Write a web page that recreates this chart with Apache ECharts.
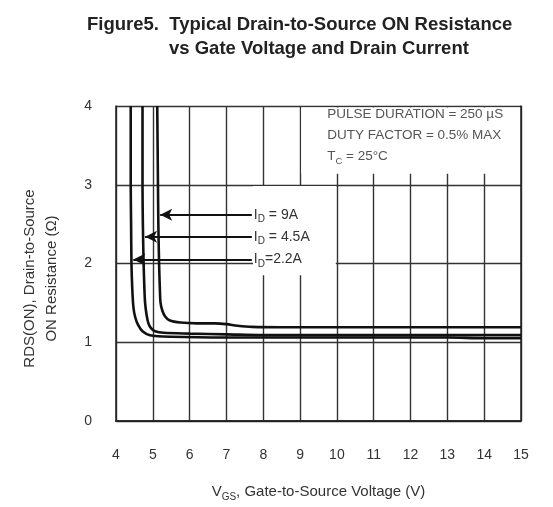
<!DOCTYPE html>
<html>
<head>
<meta charset="utf-8">
<script src="https://cdn.jsdelivr.net/npm/echarts@6/dist/echarts.min.js"></script>
<style>html,body{margin:0;padding:0;background:#fff}#c{width:553px;height:507px}</style>
</head>
<body>
<div id="c"></div>
<script>
// ---- data ----
const xTicks = [4,5,6,7,8,9,10,11,12,13,14,15];
const yTicks = [0,1,2,3,4];
const id9A = [[5.12,4.0],[5.13,3.5],[5.14,3.0],[5.15,2.5],[5.17,2.0],[5.19,1.7],[5.21,1.5],[5.26,1.4],[5.33,1.33],[5.45,1.28],[5.75,1.25],[6.2,1.24],[6.7,1.24],[7.0,1.23],[7.3,1.21],[7.7,1.195],[8.5,1.19],[10,1.19],[12,1.19],[15,1.19]];
const id4_5A = [[4.72,4.0],[4.72,3.0],[4.73,2.5],[4.75,2.0],[4.77,1.7],[4.79,1.5],[4.83,1.35],[4.88,1.24],[4.95,1.18],[5.06,1.14],[5.3,1.12],[6,1.11],[7,1.10],[8,1.09],[10,1.09],[12,1.09],[15,1.09]];
const id2_2A = [[4.40,4.0],[4.40,3.0],[4.41,2.5],[4.42,2.0],[4.44,1.7],[4.47,1.46],[4.52,1.32],[4.6,1.22],[4.72,1.14],[4.92,1.09],[5.5,1.07],[7,1.06],[10,1.06],[13,1.06],[14,1.05],[15,1.05]];
const arrowY = [2.62, 2.34, 2.05];
const arrowTipX = [5.2, 4.79, 4.47];
const arrowStartX = 7.69;
const curveLabels = ['{a|I}{s|D}{a| = 9A}', '{a|I}{s|D}{a| = 4.5A}', '{a|I}{s|D}{a|=2.2A}'];
const noteLines = ['{n|PULSE DURATION = 250 µS}', '{n|DUTY FACTOR = 0.5% MAX}', '{n|T}{ns|C}{n| = 25°C}'];
const noteBox = [[9, 3.14], [15, 4]];
const labelBox = [[7.72, 1.85], [9.97, 2.985]];

const FONT = '"Liberation Sans",Arial,sans-serif';
const chart = echarts.init(document.getElementById('c'), null, {renderer:'canvas'});

function curve(name, data, arrowIdx){
  return {
    name, type:'line', data, showSymbol:false, smooth:0.3, silent:true,
    lineStyle:{color:'#111', width:2.6},
    markLine:{
      silent:true, symbol:['none','arrow'], symbolSize:[9,12],
      lineStyle:{color:'#111', width:2, type:'solid'},
      label:{show:true, position:'start', formatter: curveLabels[arrowIdx], distance:2,
        rich:{a:{fontFamily:FONT,fontSize:14,color:'#333',lineHeight:20},
              s:{fontFamily:FONT,fontSize:10,color:'#333',lineHeight:10,verticalAlign:'bottom'}}},
      data:[[{coord:[arrowStartX, arrowY[arrowIdx]]},{coord:[arrowTipX[arrowIdx], arrowY[arrowIdx]]}]]
    }
  };
}

const series = [{
  type:'line', data:[], silent:true,
  markArea:{silent:true, itemStyle:{color:'#fff'},
    label:{show:false},
    data:[
      [{coord:[noteBox[0][0]+0.03, noteBox[0][1]],
        label:{show:true, position:'insideTopLeft', distance:0, offset:[26,-4],
          formatter: noteLines.join('\n'),
          rich:{n:{fontFamily:FONT,fontSize:13.5,color:'#555',lineHeight:21},
                ns:{fontFamily:FONT,fontSize:9.5,color:'#555',lineHeight:8,verticalAlign:'bottom'}}}},
       {coord:[noteBox[1][0]-0.03, noteBox[1][1]-0.02]}],
      [{coord:labelBox[0]},{coord:labelBox[1]}]
    ]}
}];
series.push(curve('9A', id9A, 0), curve('4.5A', id4_5A, 1), curve('2.2A', id2_2A, 2));

chart.setOption({
  animation:false,
  backgroundColor:'#fff',
  title:[
    {text:'Figure5.  Typical Drain-to-Source ON Resistance', left:82, top:10,
     textStyle:{fontFamily:FONT,fontSize:18.5,fontWeight:'bold',color:'#222'}},
    {text:'vs Gate Voltage and Drain Current', left:164, top:34,
     textStyle:{fontFamily:FONT,fontSize:18.5,fontWeight:'bold',color:'#222'}}
  ],
  grid:{left:116, right:32, top:106, bottom:84, show:false},
  xAxis:[{type:'value', min:4, max:15, interval:1,
    name:'{a|V}{s|GS}{a|, Gate-to-Source Voltage (V)}', nameLocation:'middle', nameGap:61,
    nameTextStyle:{rich:{a:{fontFamily:FONT,fontSize:15,color:'#333',lineHeight:20},
                         s:{fontFamily:FONT,fontSize:10,color:'#333',lineHeight:10,verticalAlign:'bottom'}}},
    axisLine:{show:true, onZero:false, lineStyle:{color:'#222', width:1.5}},
    axisTick:{show:false},
    splitLine:{show:true, lineStyle:{color:'#333', width:1.4}},
    axisLabel:{fontFamily:FONT, fontSize:14, color:'#333', margin:27,
      formatter:v=>xTicks.includes(v)?String(v):''}
  },{type:'value', min:4, max:15, position:'top', axisLine:{show:true,lineStyle:{color:'#222',width:1.5}}, axisLabel:{show:false}, axisTick:{show:false}, splitLine:{show:false}}],
  yAxis:[{type:'value', min:0, max:4, interval:1,
    name:'RDS(ON), Drain-to-Source\nON Resistance (\u03A9)', nameLocation:'middle', nameGap:53,
    nameTextStyle:{fontFamily:FONT, fontSize:15, color:'#333', lineHeight:22, padding:[0,30,0,0]},
    axisLine:{show:true, onZero:false, lineStyle:{color:'#222', width:1.5}},
    axisTick:{show:false},
    splitLine:{show:true, lineStyle:{color:'#333', width:1.4}},
    axisLabel:{fontFamily:FONT, fontSize:14, color:'#333', margin:24,
      formatter:v=>yTicks.includes(v)?String(v):''}
  },{type:'value', min:0, max:4, position:'right', axisLine:{show:true,lineStyle:{color:'#222',width:1.5}}, axisLabel:{show:false}, axisTick:{show:false}, splitLine:{show:false}}],
  series
});
</script>
</body>
</html>
